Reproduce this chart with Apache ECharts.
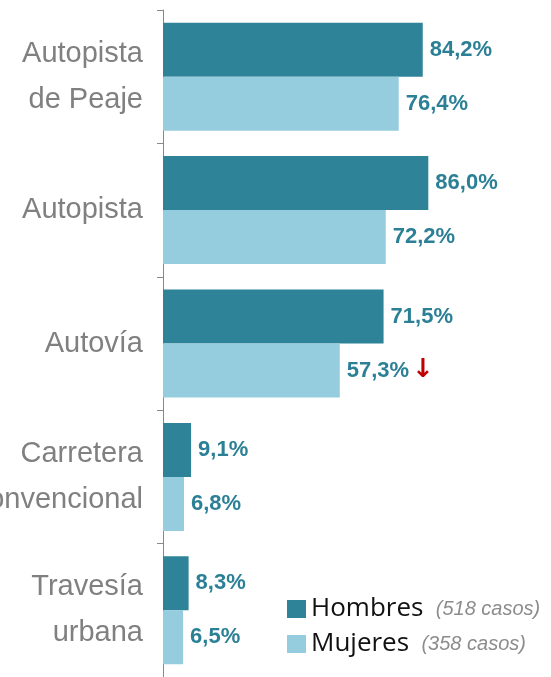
<!DOCTYPE html>
<html>
<head>
<meta charset="utf-8">
<script src="https://cdn.jsdelivr.net/npm/echarts@6/dist/echarts.min.js"></script>
<style>
    html, body { margin: 0; padding: 0; background: #fff; }
    #chart { width: 551px; height: 677px; }
</style>
</head>
<body>
<div id="chart"></div>
<script>
// categorias (de arriba a abajo)
var categories = ['Autopista\nde Peaje', 'Autopista', 'Autovía', 'Carretera\nconvencional', 'Travesía\nurbana'];
var hombres = [84.2, 86.0, 71.5, 9.1, 8.3];
var mujeres = [76.4, 72.2, 57.3, 6.8, 6.5];
// flecha de descenso junto a la etiqueta
var mujeresFlags = ['', '', '↓', '', ''];
var legendNotes = { 'Hombres': '(518 casos)', 'Mujeres': '(358 casos)' };

var darkColor = '#2f8399';
var lightColor = '#95cddf';
var labelColor = '#2c8096';

function fmt(v) {
    return v.toFixed(1).replace('.', ',') + '%';
}

var valueLabel = {
    show: true,
    position: 'right',
    distance: 7,
    color: labelColor,
    fontFamily: "'Liberation Sans', Arial, sans-serif",
    fontWeight: 'bold',
    fontSize: 22
};

var myChart = echarts.init(document.getElementById('chart'));
var option = {
    animation: false,
    grid: {
        left: 163,
        right: 79.5,
        top: 10,
        bottom: 0,
        containLabel: false,
        outerBoundsMode: 'none'
    },
    legend: {
        orient: 'vertical',
        left: 282,
        top: 591,
        itemWidth: 19,
        itemHeight: 18,
        itemGap: 9,
        icon: 'rect',
        data: ['Hombres', 'Mujeres'],
        formatter: function (name) {
            return '{n|' + name + '} {c|' + legendNotes[name] + '}';
        },
        textStyle: {
            rich: {
                n: {
                    fontFamily: "'Open Sans', sans-serif",
                    fontSize: 26,
                    color: '#111',
                    lineHeight: 24,
                    padding: [0, 9, 0, 0]
                },
                c: {
                    fontFamily: "'Liberation Sans', sans-serif",
                    fontStyle: 'italic',
                    fontSize: 20,
                    color: '#8c8c8c',
                    lineHeight: 24
                }
            }
        }
    },
    xAxis: {
        type: 'value',
        min: 0,
        max: 100,
        show: false
    },
    yAxis: {
        type: 'category',
        inverse: true,
        data: categories,
        axisLine: { lineStyle: { color: '#888', width: 1 } },
        axisTick: { show: true, length: 6, lineStyle: { color: '#888' } },
        axisLabel: {
            margin: 20,
            color: '#808080',
            fontFamily: "'Liberation Sans', Arial, sans-serif",
            fontSize: 29,
            lineHeight: 46,
            align: 'right'
        }
    },
    series: [
        {
            name: 'Hombres',
            type: 'bar',
            barWidth: 54,
            barGap: '0%',
            itemStyle: { color: darkColor },
            label: Object.assign({}, valueLabel, {
                formatter: function (p) { return fmt(p.value); }
            }),
            data: hombres
        },
        {
            name: 'Mujeres',
            type: 'bar',
            barWidth: 54,
            barGap: '0%',
            itemStyle: { color: lightColor },
            label: Object.assign({}, valueLabel, {
                formatter: function (p) {
                    var s = '{v|' + fmt(p.value) + '}';
                    if (mujeresFlags[p.dataIndex]) {
                        s += '{a|' + mujeresFlags[p.dataIndex] + '}';
                    }
                    return s;
                },
                rich: {
                    v: {
                        color: labelColor,
                        fontFamily: "'Liberation Sans', Arial, sans-serif",
                        fontWeight: 'bold',
                        fontSize: 22
                    },
                    a: {
                        color: '#c00000',
                        fontFamily: "'DejaVu Sans', sans-serif",
                        fontSize: 26,
                        padding: [0, 0, 0, 3]
                    }
                }
            }),
            data: mujeres
        }
    ]
};
myChart.setOption(option);
</script>
</body>
</html>
